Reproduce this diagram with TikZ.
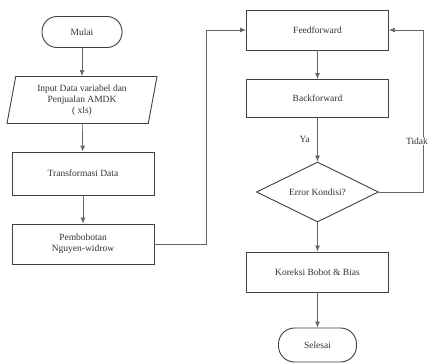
\documentclass[tikz,border=0pt]{standalone}
\usepackage{fontspec}
\setmainfont{Liberation Serif}
\usetikzlibrary{shapes.geometric,arrows.meta}
\begin{document}
\begin{tikzpicture}[x=1pt,y=-1pt,
  font=\fontsize{9.5}{11}\selectfont,
  every node/.style={text=black!80},
  procbox/.style={draw=black!75,line width=0.9pt,minimum width=142pt,minimum height=40pt,inner sep=2pt,align=center},
  terminal/.style={draw=black!75,line width=0.9pt,rounded corners=15pt,minimum width=80pt,minimum height=31pt},
  iobox/.style={draw=black!75,line width=0.9pt,trapezium,trapezium left angle=75,trapezium right angle=105,trapezium stretches body,minimum width=150pt,minimum height=47pt,inner sep=1pt,align=center},
  decision/.style={draw=black!75,line width=0.9pt,diamond,aspect=2,minimum width=122pt,minimum height=60pt,inner sep=0pt},
  flow/.style={draw=black!60,line width=0.7pt,-{Latex[length=6pt,width=5pt]}}
]
\useasboundingbox (0,0) rectangle (432,364);
\fill[white] (0,0) rectangle (432,364);

% left column
\node[terminal] (mulai) at (82,32) {Mulai};
\node[iobox] (input) at (82,100) {Input Data variabel dan\\Penjualan AMDK\\( xls)};
\node[procbox,minimum height=43pt] (trans) at (83,173.5) {Transformasi Data};
\node[procbox] (bobot) at (83,244) {Pembobotan\\Nguyen-widrow};

% right column
\node[procbox] (ff) at (317.5,30) {Feedforward};
\node[procbox,minimum height=38pt] (bf) at (317.5,98.5) {Backforward};
\node[decision] (err) at (317.5,192) {Error Kondisi?};
\node[procbox] (kor) at (317.5,272) {Koreksi Bobot \& Bias};
\node[terminal,minimum width=78pt,minimum height=34pt,rounded corners=16pt] (sel) at (317.5,345) {Selesai};

% connectors
\draw[flow] (mulai) -- (input);
\draw[flow] (input) -- (trans);
\draw[flow] (trans) -- (bobot);
\coordinate (lb) at (206,244);
\coordinate (lt) at (206,30);
\draw[flow] (bobot.east) -- (lb) -- (lt) -- (ff.west);
\draw[flow] (ff) -- (bf);
\draw[flow] (bf) -- node[left=4pt,pos=0.5] {Ya} (err);
\draw[flow] (err) -- (kor);
\draw[flow] (kor) -- (sel);
\coordinate (rb) at (423,192);
\coordinate (rt) at (423,30);
\draw[flow] (err.east) -- (rb) -- (rt) -- (ff.east);
% the "no" label sits on the return line, masking it
\node[fill=white,inner sep=1pt] (tidak) at (417,141) {Tidak};
\end{tikzpicture}
\end{document}
